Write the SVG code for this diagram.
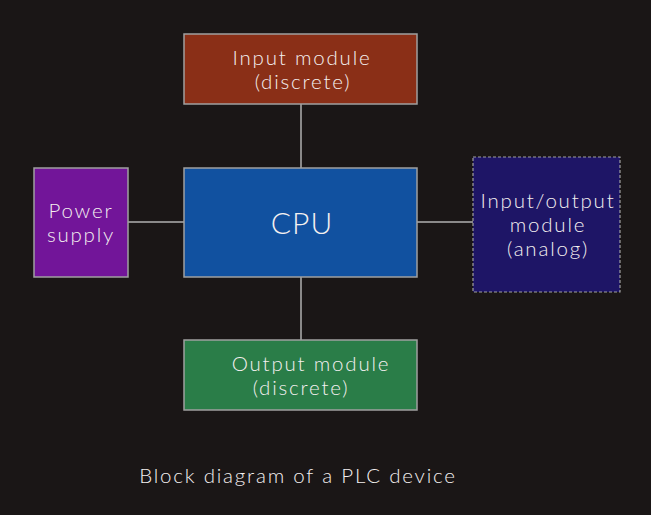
<svg xmlns="http://www.w3.org/2000/svg" width="651" height="515" viewBox="0 0 651 515">
<style>
.box{stroke:#a0a0a0;stroke-width:1.5}
.dash{stroke:#a0a0a0;stroke-width:1.2;stroke-dasharray:3 2}
.t{font-family:Lato,"Open Sans",sans-serif;font-weight:300;fill:#f4f0f0;font-size:20.5px;letter-spacing:1.8px;text-anchor:middle}
.c{stroke:#b0b0b0;stroke-width:1.5;fill:none}
</style>
<rect width="651" height="515" fill="#1a1616"/>
<g id="connectors">
<line class="c" x1="301" y1="104" x2="301" y2="168"/>
<line class="c" x1="301" y1="277" x2="301" y2="340"/>
<line class="c" x1="128" y1="222" x2="184" y2="222"/>
<line class="c" x1="417" y1="222" x2="473" y2="222"/>
</g>
<g id="input">
<rect class="box" x="184" y="34" width="233" height="70" fill="#8a2f17"/>
<text class="t" x="302" y="65">Input module</text>
<text class="t" x="303" y="89">(discrete)</text>
</g>
<g id="cpu">
<rect class="box" x="184" y="168" width="233" height="109" fill="#1151a0"/>
<text class="t" x="302" y="234" style="font-size:30px;letter-spacing:1px">CPU</text>
</g>
<g id="power">
<rect class="box" x="34" y="168" width="94" height="109" fill="#721599"/>
<text class="t" x="81" y="218">Power</text>
<text class="t" x="81" y="242">supply</text>
</g>
<g id="analog">
<rect class="dash" x="473" y="157" width="147" height="135" fill="#1e1566"/>
<text class="t" x="548" y="208">Input/output</text>
<text class="t" x="548" y="232">module</text>
<text class="t" x="548" y="256">(analog)</text>
</g>
<g id="output">
<rect class="box" x="184" y="340" width="233" height="70" fill="#2a7d48"/>
<text class="t" x="311" y="371">Output module</text>
<text class="t" x="301" y="395">(discrete)</text>
</g>
<g id="caption">
<text class="t" x="298" y="483">Block diagram of a PLC device</text>
</g>
</svg>
